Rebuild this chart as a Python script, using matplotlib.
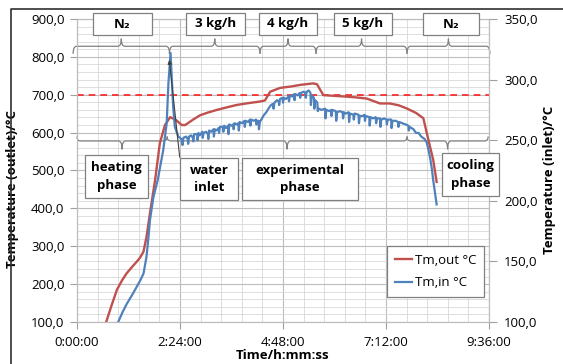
import numpy as np
import matplotlib
matplotlib.use("Agg")
import matplotlib.pyplot as plt
from matplotlib.transforms import Affine2D
from matplotlib.patches import Rectangle, FancyArrowPatch, PathPatch
from matplotlib.path import Path
from matplotlib.lines import Line2D
from matplotlib.ticker import MultipleLocator, FuncFormatter

plt.rcParams['font.family'] = ['Open Sans', 'DejaVu Sans']

# outlet temperature (left axis), time in hours
red_t = [0.68, 0.80, 0.93, 1.05, 1.16, 1.28, 1.39, 1.47, 1.55, 1.62, 1.70, 1.82, 1.93, 2.05, 2.17,
         2.31, 2.44, 2.52, 2.70, 2.87, 3.05, 3.26, 3.50, 3.72, 4.00, 4.26, 4.38, 4.50, 4.73, 5.00,
         5.20, 5.50, 5.59, 5.74, 6.00, 6.28, 6.50, 6.75, 7.06, 7.29, 7.50, 7.68, 7.90, 8.07, 8.19,
         8.30, 8.38]
red_v = [100, 142, 185, 210, 229, 245, 259, 270, 286, 325, 387, 475, 572, 620, 641,
         633, 620, 620, 634, 646, 653, 660, 667, 673, 678, 682, 685, 708, 718, 722,
         726, 730, 728, 699, 697, 695, 693, 690, 677, 677, 672, 664, 652, 638, 580,
         528, 470]

# inlet temperature (right axis)
blue_t = [0.96, 1.06, 1.16, 1.28, 1.39, 1.47, 1.55, 1.62, 1.66, 1.70, 1.78, 1.88, 2.01, 2.09, 2.13,
          2.18, 2.24, 2.28, 2.36,
          2.40, 2.45, 2.46, 2.48, 2.54, 2.58, 2.59, 2.61, 2.66, 2.70,
          2.71, 2.73, 2.80, 2.81, 2.83, 2.86, 2.92, 2.93, 2.95, 3.01,
          3.05, 3.06, 3.08, 3.13, 3.18, 3.19, 3.21, 3.25, 3.30, 3.31,
          3.33, 3.40, 3.41, 3.43, 3.47, 3.52, 3.53, 3.55, 3.60, 3.64,
          3.65, 3.67, 3.73, 3.76, 3.77, 3.79, 3.85, 3.90, 3.91, 3.93,
          3.99, 4.03, 4.04, 4.06, 4.12, 4.17, 4.18, 4.20, 4.23, 4.24,
          4.26, 4.31, 4.36, 4.41, 4.46,
          4.52, 4.57, 4.58, 4.60, 4.66, 4.70, 4.71, 4.73, 4.79, 4.80,
          4.82, 4.87, 4.93, 4.94, 4.96, 5.02, 5.06, 5.07, 5.09, 5.15,
          5.19, 5.20, 5.22, 5.28, 5.32, 5.33, 5.35, 5.40, 5.44, 5.45,
          5.47, 5.52, 5.53, 5.55, 5.60, 5.61, 5.63,
          5.70, 5.78, 5.79, 5.81, 5.88, 5.92, 5.93, 5.95, 6.03, 6.04,
          6.06, 6.12, 6.19, 6.20, 6.22, 6.26, 6.33, 6.34, 6.36, 6.44,
          6.45, 6.47, 6.56, 6.57, 6.59, 6.66, 6.70, 6.71, 6.73, 6.81,
          6.82, 6.84, 6.90, 6.96, 6.97, 6.99, 7.06, 7.07, 7.09, 7.16,
          7.21, 7.22, 7.24, 7.32, 7.33, 7.35, 7.43, 7.48, 7.49, 7.51,
          7.58, 7.66, 7.72, 7.73, 7.75, 7.84, 7.90, 7.96, 8.02, 8.10,
          8.15, 8.19, 8.23, 8.27, 8.30, 8.34, 8.38]
blue_v = [100, 108, 115, 122, 129, 134, 140, 154, 168, 184, 203, 217, 242, 264, 297,
          322, 278, 261, 253,
          252, 250, 246, 252, 253, 251, 247, 253, 254, 252,
          249, 255, 255, 250, 256, 254, 257, 252, 256, 257,
          255, 251, 258, 257, 259, 253, 259, 258, 260, 256,
          261, 261, 257, 262, 260, 262, 255, 263, 262, 263,
          259, 264, 263, 264, 258, 265, 264, 266, 261, 266,
          265, 267, 262, 267, 266, 267, 263, 266, 266, 259,
          265, 268, 271, 273, 276,
          279, 280, 276, 281, 283, 282, 279, 284, 285, 281,
          285, 284, 286, 282, 287, 286, 288, 283, 288, 287,
          289, 285, 289, 290, 289, 285, 290, 291, 289, 279,
          287, 285, 276, 283, 281, 274, 276,
          275, 276, 268, 275, 274, 275, 270, 275, 274, 266,
          273, 274, 273, 268, 273, 272, 273, 265, 272, 271,
          267, 272, 271, 264, 270, 270, 271, 266, 270, 269,
          262, 269, 268, 269, 264, 268, 268, 261, 267, 268,
          267, 263, 267, 267, 260, 266, 266, 265, 261, 265,
          264, 263, 262, 258, 261, 259, 256, 256, 253, 251,
          248, 242, 235, 226, 217, 207, 197]

top_labels = ['N\u2082', '3 kg/h', '4 kg/h', '5 kg/h', 'N\u2082']
top_spans = [(-0.09, 2.155), (2.155, 4.264), (4.264, 5.57), (5.57, 7.69), (7.69, 9.62)]
bottom_labels = ['heating\nphase', 'water\ninlet', 'experimental\nphase', 'cooling\nphase']
bottom_spans = [(0.0, 2.1), (2.1, 7.69), (7.69, 9.58)]

RED = '#C0504D'
BLUE = '#4F81BD'
W, H = 563, 364

fig = plt.figure(figsize=(W / 100, H / 100), dpi=100)
ax = fig.add_axes([77 / W, 1 - 322 / H, 412 / W, 303 / H])
ax2 = ax.twinx()
px = Affine2D().scale(1 / W, -1 / H).translate(0, 1) + fig.transFigure

ax.set_xlim(0, 9.6)
ax.set_ylim(100, 900)
ax2.set_ylim(100, 350)

ax.xaxis.set_major_locator(MultipleLocator(2.4))
ax.xaxis.set_minor_locator(MultipleLocator(0.48))
ax.yaxis.set_major_locator(MultipleLocator(100))
ax.yaxis.set_minor_locator(MultipleLocator(20))
ax2.yaxis.set_major_locator(MultipleLocator(50))


def hms(x, pos):
    s = int(round(x * 3600))
    return '%d:%02d:%02d' % (s // 3600, (s % 3600) // 60, s % 60)


comma = FuncFormatter(lambda v, p: ('%.1f' % v).replace('.', ','))
ax.xaxis.set_major_formatter(FuncFormatter(hms))
ax.yaxis.set_major_formatter(comma)
ax2.yaxis.set_major_formatter(comma)

ax.grid(which='major', color='#BDBDBD', lw=0.8)
ax.grid(which='minor', color='#D9D9D9', lw=0.6)
ax.set_axisbelow(True)
for a in (ax, ax2):
    for s in a.spines.values():
        s.set_color('#BDBDBD')
        s.set_linewidth(0.8)
ax.tick_params(axis='both', which='major', labelsize=9.5, color='#A0A0A0', length=5)
ax.tick_params(axis='x', pad=5)
ax.tick_params(axis='y', pad=4)
ax.tick_params(which='minor', length=0)
ax2.tick_params(axis='y', labelsize=9.5, color='#A0A0A0', length=6, pad=5)

ax.axhline(700, color='#FF2020', lw=1.2, ls=(0, (4, 3)), zorder=2)

l1, = ax.plot(red_t, red_v, color=RED, lw=1.7, zorder=3)
l2, = ax2.plot(blue_t, blue_v, color=BLUE, lw=1.6, zorder=3)

ax.set_xlabel('Time/h:mm:ss', fontsize=9.5, fontweight='bold', labelpad=0)
ax.set_ylabel('Temperature (outlet)/°C', fontsize=9.5, fontweight='bold')
ax2.set_ylabel('Temperature (inlet)/°C', fontsize=9.5, fontweight='bold', rotation=90)
ax.yaxis.set_label_coords(-0.141, 0.44)
ax2.yaxis.set_label_coords(1.13, 0.47)

leg = ax2.legend([l1, l2], ['Tm,out °C', 'Tm,in °C'], loc='upper left',
                 bbox_to_anchor=(387 / W, 1 - 246 / H), bbox_transform=fig.transFigure,
                 borderaxespad=0, fancybox=False, edgecolor='#808080', fontsize=9.5,
                 handlelength=1.3, handletextpad=0.2, labelspacing=0.7, borderpad=0.6,
                 framealpha=1)
leg.get_frame().set_linewidth(0.9)


def brace(t0, t1, ybase, yend, ytip, d=0.08):
    tm = (t0 + t1) / 2
    verts = [(t0, yend), (t0, ybase), (t0 + d, ybase), (tm - d, ybase), (tm, ybase), (tm, ytip),
             (tm, ybase), (tm + d, ybase), (t1 - d, ybase), (t1, ybase), (t1, yend)]
    codes = [Path.MOVETO, Path.CURVE3, Path.CURVE3, Path.LINETO, Path.CURVE3, Path.CURVE3,
             Path.CURVE3, Path.CURVE3, Path.LINETO, Path.CURVE3, Path.CURVE3]
    ax.add_patch(PathPatch(Path(verts, codes), fill=False, ec='#808080', lw=0.9,
                           clip_on=False, zorder=2))


for t0, t1 in top_spans:
    brace(t0, t1, 828, 808, 848)
for t0, t1 in bottom_spans:
    brace(t0, t1, 578, 590, 556)

arrow = FancyArrowPatch((180, 160), (169, 57), transform=px, arrowstyle='-|>',
                        mutation_scale=6, color='#404040', lw=0.8, zorder=4)
fig.add_artist(arrow)

top_boxes = [(93, 13, 152, 35), (186, 13, 245, 35), (259, 13, 317, 35),
             (334, 13, 392, 35), (423, 13, 479, 35)]
bottom_boxes = [(85, 155, 148, 198), (180, 158, 238, 200), (242, 158, 358, 200),
                (442, 153, 499, 196)]
for (x0, y0, x1, y1), lab in zip(top_boxes + bottom_boxes, top_labels + bottom_labels):
    fig.add_artist(Rectangle((x0, y0), x1 - x0, y1 - y0, transform=px, fc='white',
                             ec='#808080', lw=0.9, zorder=5))
    fig.text((x0 + x1) / 2, (y0 + y1) / 2, lab, transform=px, ha='center', va='center',
             fontsize=9.5, fontweight='bold', linespacing=1.4, zorder=6)

fig.add_artist(Line2D([11, 11, W], [H, 9, 9], transform=px, color='#303030', lw=1.2))

fig.savefig('out.png', dpi=100)
